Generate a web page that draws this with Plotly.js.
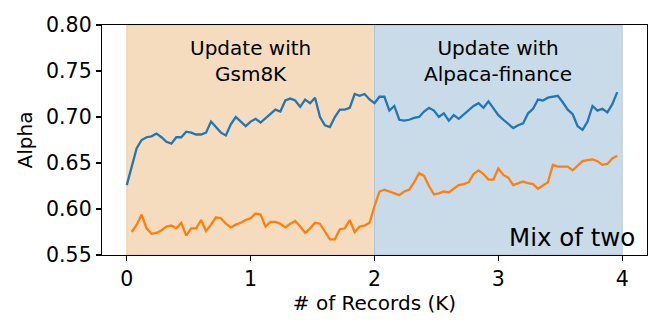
<!DOCTYPE html>
<html>
<head>
<meta charset="utf-8">
<script src="https://cdn.plot.ly/plotly-3.0.1.min.js"></script>
<style>html,body{margin:0;padding:0;background:#fff;}#chart{width:664px;height:332px;}</style>
</head>
<body>
<div id="chart"></div>
<script>
// Records (K) for the blue series
const recordsBlue = [0.00,0.04,0.08,0.12,0.16,0.20,0.24,0.28,0.32,0.36,0.40,0.44,0.48,0.52,0.56,0.60,0.64,0.68,0.72,0.76,0.80,0.84,0.88,0.92,0.96,
  1.00,1.04,1.08,1.12,1.16,1.20,1.24,1.28,1.32,1.36,1.40,1.44,1.48,1.52,1.56,1.60,1.64,1.68,1.72,1.76,1.80,1.84,1.88,1.92,1.96,
  2.00,2.04,2.08,2.12,2.16,2.20,2.24,2.28,2.32,2.36,2.40,2.44,2.48,2.52,2.56,2.60,2.64,2.68,2.72,2.76,2.80,2.84,2.88,2.92,2.96,
  3.00,3.04,3.08,3.12,3.16,3.20,3.24,3.28,3.32,3.36,3.40,3.44,3.48,3.52,3.56,3.60,3.64,3.68,3.72,3.76,3.80,3.84,3.88,3.92,3.96];
const alphaBlue = [0.626,0.646,0.666,0.675,0.678,0.679,0.682,0.678,0.673,0.671,0.678,0.678,0.684,0.683,0.681,0.681,0.683,0.695,0.689,0.683,0.680,0.692,0.700,0.695,0.690,
  0.695,0.698,0.694,0.699,0.703,0.708,0.706,0.718,0.720,0.718,0.711,0.719,0.715,0.721,0.700,0.691,0.689,0.700,0.708,0.708,0.710,0.725,0.723,0.725,0.719,
  0.715,0.722,0.722,0.707,0.712,0.697,0.696,0.697,0.699,0.700,0.706,0.710,0.707,0.700,0.704,0.696,0.702,0.698,0.703,0.708,0.712,0.715,0.710,0.717,0.710,
  0.702,0.697,0.692,0.688,0.691,0.693,0.704,0.709,0.719,0.718,0.721,0.722,0.723,0.716,0.708,0.703,0.690,0.686,0.695,0.712,0.707,0.709,0.705,0.714,0.727];

// Records (K) for the orange series
const recordsOrange = [0.04,0.08,0.12,0.16,0.20,0.24,0.28,0.32,0.36,0.40,0.44,0.48,0.52,0.56,0.60,0.64,0.68,0.72,0.76,0.80,0.84,0.88,0.92,0.96,
  1.00,1.04,1.08,1.12,1.16,1.20,1.24,1.28,1.32,1.36,1.40,1.44,1.48,1.52,1.56,1.60,1.64,1.68,1.72,1.76,1.80,1.84,1.88,1.92,1.96,
  2.00,2.04,2.08,2.12,2.16,2.20,2.24,2.28,2.32,2.36,2.40,2.44,2.48,2.52,2.56,2.60,2.64,2.68,2.72,2.76,2.80,2.84,2.88,2.92,2.96,
  3.00,3.04,3.08,3.12,3.16,3.20,3.24,3.28,3.32,3.36,3.40,3.44,3.48,3.52,3.56,3.60,3.64,3.68,3.72,3.76,3.80,3.84,3.88,3.92,3.96];
const alphaOrange = [0.575,0.583,0.594,0.579,0.573,0.574,0.577,0.581,0.582,0.579,0.585,0.571,0.579,0.579,0.588,0.576,0.583,0.591,0.590,0.584,0.580,0.583,0.585,0.588,
  0.590,0.595,0.594,0.581,0.586,0.586,0.584,0.580,0.584,0.587,0.581,0.574,0.579,0.585,0.584,0.575,0.567,0.567,0.578,0.579,0.588,0.575,0.581,0.582,0.585,
  0.603,0.619,0.621,0.619,0.617,0.615,0.619,0.621,0.629,0.639,0.636,0.625,0.616,0.617,0.619,0.618,0.622,0.626,0.627,0.629,0.638,0.642,0.638,0.632,0.632,
  0.644,0.637,0.634,0.626,0.628,0.630,0.628,0.627,0.622,0.626,0.629,0.648,0.646,0.646,0.646,0.642,0.647,0.652,0.653,0.654,0.652,0.648,0.649,0.655,0.658];

const xTicks = [0, 1, 2, 3, 4];
const yTicks = [0.55, 0.60, 0.65, 0.70, 0.75, 0.80];
const phaseSpans = [[0, 2], [2, 4]];
const phaseLabels = ["Update with<br>Gsm8K", "Update with<br>Alpaca-finance"];
const cornerLabel = "Mix of two";

const FONT = "DejaVu Sans, Liberation Sans, sans-serif";

const traces = [
  {x: recordsBlue, y: alphaBlue, type: 'scatter', mode: 'lines', line: {color: '#1f77b4', width: 2.3}, hoverinfo: 'skip'},
  {x: recordsOrange, y: alphaOrange, type: 'scatter', mode: 'lines', line: {color: '#ff7f0e', width: 2.3}, hoverinfo: 'skip'}
];

const spanFill = ['#f6dcbe', '#c9dbe9'];
const spanEdge = ['rgba(240,190,140,0.6)', 'rgba(150,185,215,0.6)'];
const shapes = phaseSpans.map((s, i) => ({
  type: 'rect', xref: 'x', yref: 'paper', x0: s[0], x1: s[1], y0: 0, y1: 1,
  fillcolor: spanFill[i], line: {color: spanEdge[i], width: 1}, layer: 'below'
}));

const annotations = phaseLabels.map((t, i) => ({
  text: t, xref: 'x', yref: 'paper', x: (phaseSpans[i][0] + phaseSpans[i][1]) / 2, y: 0.842,
  xanchor: 'center', yanchor: 'middle', showarrow: false, align: 'center',
  font: {family: FONT, size: 20, color: '#000'}
}));
annotations.push({
  text: cornerLabel, xref: 'paper', yref: 'paper', x: 0.981, y: 0.078,
  xanchor: 'right', yanchor: 'middle', showarrow: false,
  font: {family: FONT, size: 24.5, color: '#000'}
});

const layout = {
  width: 664, height: 332,
  margin: {l: 102, r: 17, t: 25, b: 77, pad: 0},
  paper_bgcolor: '#fff', plot_bgcolor: '#fff',
  showlegend: false,
  font: {family: FONT, size: 20, color: '#000'},
  xaxis: {
    range: [-0.2, 4.2], tickvals: xTicks, ticktext: xTicks.map(String),
    showgrid: false, zeroline: false, showline: true, mirror: true, linecolor: '#000', linewidth: 1.2,
    ticks: 'outside', ticklen: 5, tickwidth: 1.2, tickcolor: '#000',
    tickfont: {family: FONT, size: 20.5},
    title: {text: '# of Records (K)', font: {family: FONT, size: 20}, standoff: 5}
  },
  yaxis: {
    range: [0.55, 0.80], tickvals: yTicks, ticktext: yTicks.map(v => v.toFixed(2)),
    showgrid: false, zeroline: false, showline: true, mirror: true, linecolor: '#000', linewidth: 1.2,
    ticks: 'outside', ticklen: 5, tickwidth: 1.2, tickcolor: '#000',
    tickfont: {family: FONT, size: 20.5},
    title: {text: 'Alpha', font: {family: FONT, size: 20}, standoff: 8}
  },
  shapes: shapes,
  annotations: annotations
};

Plotly.newPlot('chart', traces, layout, {staticPlot: true, displayModeBar: false});
</script>
</body>
</html>
